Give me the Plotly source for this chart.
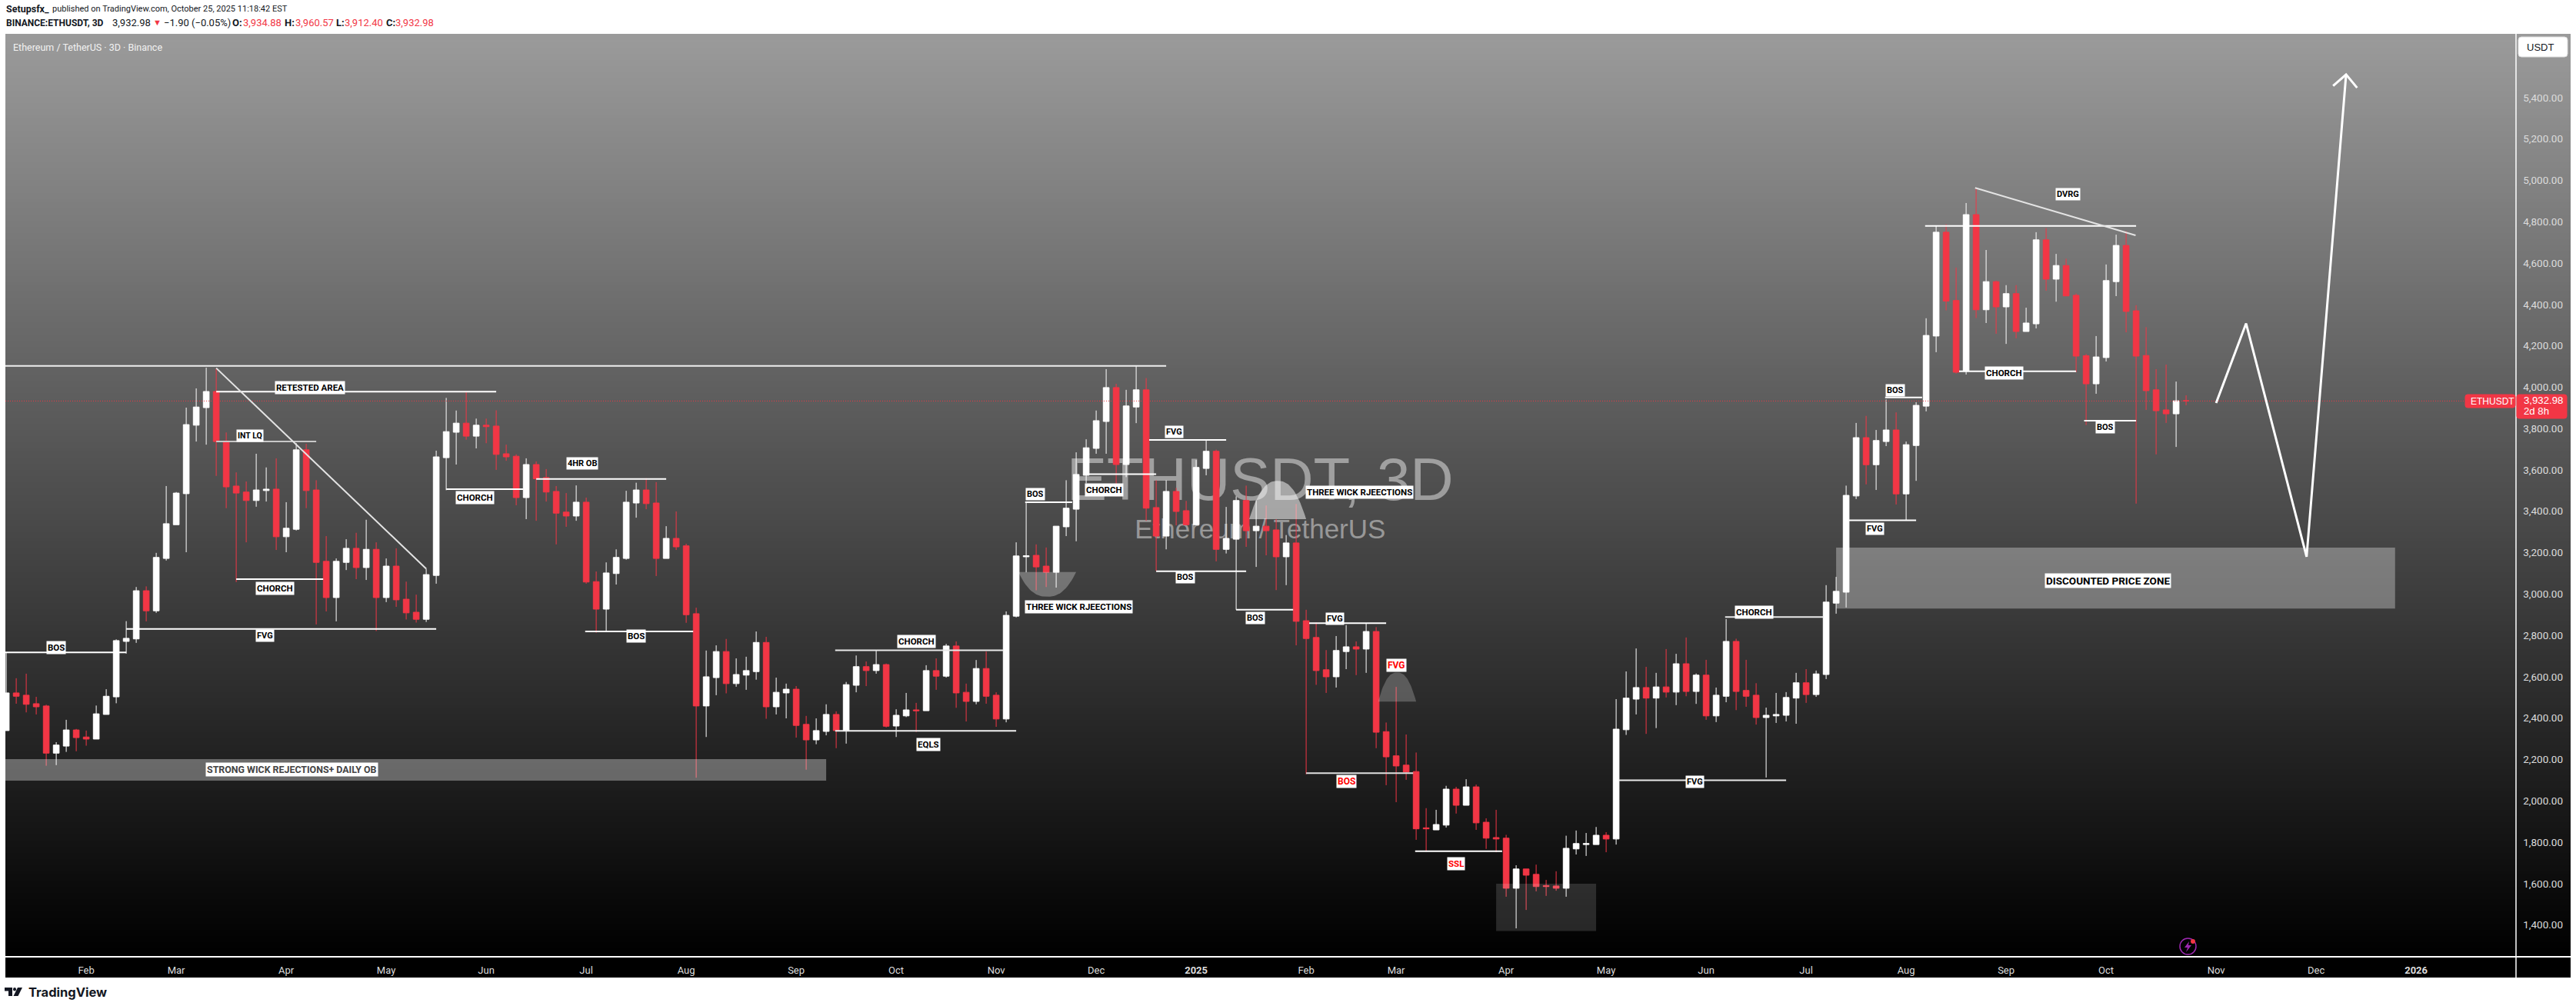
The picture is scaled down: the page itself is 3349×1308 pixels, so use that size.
import numpy as np
import pandas as pd
import plotly.graph_objects as go

WIDTH, HEIGHT = 3349, 1308
PLOT_L, PLOT_R, PLOT_T, PLOT_B = 7, 3342, 44, 1243
AXIS_X = 3271

first_bar = pd.Timestamp("2024-01-10")
bar_days = 3

opens = [2340,2522,2511,2470,2459,2231,2265,2343,2309,2299,2418,2503,2771,2783,3016,2919,3172,3335,3485,3816,3901,3979,3740,3522,3493,3452,3500,3507,3277,3313,3697,3503,3158,2983,3153,3221,3128,3216,2983,3135,2975,2912,2878,3090,3659,3782,3826,3763,3816,3812,3678,3666,3466,3626,3563,3496,3396,3377,3444,3060,2927,3099,3172,3440,3503,3440,3172,3269,3233,2905,2459,2596,2722,2567,2608,2625,2766,2455,2522,2540,2370,2295,2336,2418,2340,2559,2649,2630,2659,2362,2411,2440,2436,2630,2603,2749,2525,2481,2640,2511,2396,2893,3180,3187,3135,3105,3325,3410,3574,3704,3834,3998,3626,3904,3987,3418,3280,3496,3403,3335,3607,3690,3216,3265,3452,3306,3328,3310,3180,3247,2871,2790,2634,2600,2722,2745,2734,2819,2335,2218,2173,2142,1870,1860,1883,2057,1979,2068,1897,1823,1820,1578,1671,1645,1591,1589,1578,1768,1789,1789,1834,1816,2344,2492,2548,2497,2551,2526,2663,2529,2608,2411,2506,2771,2534,2511,2403,2411,2414,2497,2571,2514,2611,2956,3009,3474,3756,3625,3737,3793,3484,3718,3908,4247,4749,4419,4077,4834,4374,4510,4388,4452,4269,4306,4712,4522,4588,4444,4152,4016,4143,4510,4685,4369,4153,3987,3890,3871,3934.88]
highs = [2715,2593,2615,2503,2465,2284,2392,2348,2340,2461,2540,2781,2869,3034,3037,3199,3522,3493,3901,3994,4094,4090,3781,3588,3544,3678,3612,3656,3444,3729,3726,3550,3280,3172,3265,3296,3359,3250,3172,3221,3060,2997,3122,3693,3948,3887,3979,3848,3848,3888,3722,3675,3656,3641,3604,3522,3488,3525,3466,3109,3153,3216,3499,3538,3560,3541,3328,3399,3243,2934,2727,2752,2783,2689,2697,2819,2793,2596,2567,2555,2411,2399,2467,2433,2575,2703,2674,2727,2664,2443,2522,2474,2656,2689,2759,2771,2567,2681,2722,2525,2916,3250,3443,3240,3225,3328,3550,3685,3748,3887,4087,4016,3987,4104,4044,3550,3550,3513,3450,3648,3744,3698,3421,3472,3524,3453,3428,3362,3285,3435,2924,2863,2729,2797,2850,2771,2858,2840,2379,2551,2321,2234,1965,1957,2073,2068,2105,2079,1916,1957,1836,1689,1671,1692,1618,1660,1832,1857,1845,1874,1849,2492,2626,2737,2648,2619,2734,2711,2790,2616,2682,2548,2879,2784,2682,2569,2451,2522,2526,2619,2637,2630,3043,3083,3524,3827,3861,3793,3940,3878,3737,3927,4333,4782,4787,4578,4890,4959,4663,4515,4493,4493,4384,4749,4769,4644,4621,4452,4160,4247,4593,4737,4754,4396,4290,4087,4109,4027,3960.57]
lows = [2340,2470,2428,2418,2170,2173,2237,2240,2267,2299,2418,2472,2712,2764,2868,2909,3162,3335,3202,3737,3722,3571,3415,3058,3250,3422,3447,3213,3202,3307,3415,2853,2916,2868,3116,3072,3068,2821,2961,2938,2877,2862,2865,3050,3502,3626,3746,3704,3729,3600,3644,3429,3362,3354,3447,3240,3325,3354,3050,2813,2821,3046,3166,3369,3410,3087,3172,3213,2861,2112,2309,2511,2520,2552,2537,2586,2397,2418,2399,2306,2151,2274,2317,2255,2277,2525,2555,2615,2355,2309,2405,2333,2436,2537,2596,2450,2384,2467,2470,2358,2380,2887,3105,3018,3034,3031,3280,3255,3535,3678,3678,3472,3565,3826,3354,3112,3216,3332,3332,3332,3574,3158,3196,2924,3228,3131,3187,3019,3043,2752,2129,2561,2522,2548,2637,2608,2619,2255,2076,1994,2102,1812,1755,1860,1871,1939,1979,1860,1768,1752,1537,1384,1473,1563,1541,1566,1537,1741,1734,1789,1752,1789,2319,2418,2324,2352,2500,2463,2506,2469,2392,2381,2477,2439,2455,2369,2113,2377,2384,2373,2474,2503,2589,2905,2935,3459,3530,3503,3715,3433,3355,3547,3883,4169,4371,4066,4061,4334,4310,4258,4209,4236,4269,4284,4466,4413,4441,4072,3817,3968,4124,4440,4265,3437,3890,3675,3827,3711,3912.40]
closes = [2522,2506,2467,2455,2231,2270,2343,2306,2299,2421,2506,2775,2786,3016,2919,3177,3340,3488,3819,3904,3979,3737,3518,3488,3452,3503,3507,3277,3318,3697,3500,3153,2983,3158,3221,3128,3216,2983,3135,2972,2909,2878,3094,3663,3785,3826,3763,3816,3809,3675,3663,3466,3626,3557,3493,3391,3377,3444,3058,2927,3102,3177,3444,3503,3437,3172,3269,3228,2900,2459,2600,2722,2567,2611,2630,2766,2455,2525,2540,2365,2295,2340,2418,2340,2562,2649,2630,2659,2361,2414,2440,2436,2630,2603,2749,2522,2481,2640,2506,2396,2897,3184,3185,3131,3105,3328,3415,3578,3707,3838,3998,3626,3909,3987,3415,3280,3496,3399,3335,3612,3690,3216,3269,3452,3306,3328,3306,3180,3247,2868,2785,2630,2600,2727,2745,2734,2819,2332,2213,2169,2140,1865,1865,1886,2057,1979,2068,1894,1820,1816,1578,1671,1641,1586,1586,1578,1771,1794,1794,1834,1816,2347,2497,2548,2497,2551,2526,2663,2529,2608,2411,2511,2771,2529,2506,2403,2414,2418,2500,2571,2514,2614,2961,3013,3477,3756,3625,3742,3793,3484,3722,3912,4250,4749,4416,4072,4834,4374,4510,4388,4452,4269,4310,4712,4522,4588,4441,4150,4016,4146,4515,4685,4366,4150,3983,3886,3871,3934,3932.98]

last_close = 3932.98
y_ticks = list(range(1400, 5401, 200))
x_tick_bars = [8,17,28,38,48,58,68,79,89,99,109,119,130,139,150,160,170,180,190,200,210,221,231,241]
x_tick_text = ["Feb","Mar","Apr","May","Jun","Jul","Aug","Sep","Oct","Nov","Dec","<b>2025</b>","Feb","Mar","Apr","May","Jun","Jul","Aug","Sep","Oct","Nov","Dec","<b>2026</b>"]

levels = [
    (-1, 116, 4103, "#eeeeee"), (21, 49, 3978, "#ffffff"), (21, 31, 3737, "#c8c8c8"),
    (23, 31.7, 3072, "#ffffff"), (12, 43, 2831, "#ffffff"), (-1, 12, 2718, "#ffffff"),
    (44, 51.7, 3507, "#ffffff"), (53, 66, 3556, "#ffffff"), (57.9, 68.7, 2819, "#ffffff"),
    (82.9, 99.7, 2728, "#e8e8e8"), (82.9, 101, 2339, "#f0f0f0"), (101.9, 106.6, 3444, "#ffffff"),
    (108, 115, 3579, "#ffffff"), (114.3, 122, 3745, "#ffffff"), (115, 124, 3110, "#ffffff"),
    (123, 128.7, 2924, "#ffffff"), (130.3, 138, 2859, "#ffffff"), (130, 140.7, 2134, "#e0e0e0"),
    (140.9, 149.6, 1757, "#ffffff"), (161.3, 178, 2100, "#e8e8e8"), (171.9, 181.7, 2889, "#e8e8e8"),
    (184.3, 191, 3356, "#ffffff"), (187.9, 191.6, 3950, "#ffffff"), (191.9, 213, 4779, "#ffffff"),
    (195.3, 207, 4077, "#ffffff"), (207.8, 213, 3838, "#ffffff"),
]
trends = [(21, 4092, 42, 3122), (196.9, 4963, 212.95, 4734)]
proj_bars = [221, 224, 230.05, 234]
proj_prices = [3923, 4308, 3180, 5511]
head_bars = [232.7, 234, 235.1]
head_prices = [5456, 5511, 5447]
zones = [(-1, 82, 2098, 2202, 0.33), (183, 238.9, 2930, 3224, 0.31), (149, 159, 1371, 1600, 0.14)]
domes = [(101.2, 107, 3106, 2987, 0.28), (124.3, 130, 3362, 3547, 0.5), (137.2, 141, 2480, 2621, 0.22)]
labels = [
    ("RETESTED AREA", 30.4, 3997, 11.5, "#000"), ("INT LQ", 24.4, 3766, 10.5, "#000"),
    ("CHORCH", 26.9, 3027, 11.5, "#000"), ("FVG", 25.9, 2797, 11, "#000"),
    ("BOS", 5, 2741, 11.5, "#000"), ("CHORCH", 46.9, 3465, 11.5, "#000"),
    ("4HR OB", 57.6, 3632, 11, "#000"), ("BOS", 63, 2796, 11.5, "#000"),
    ("CHORCH", 91, 2772, 11.5, "#000"), ("EQLS", 92.25, 2274, 11.5, "#000"),
    ("BOS", 102.9, 3481, 11, "#000"), ("CHORCH", 109.8, 3503, 11.5, "#000"),
    ("FVG", 116.8, 3785, 11, "#000"), ("BOS", 117.9, 3082, 11, "#000"),
    ("BOS", 124.9, 2883, 11, "#000"), ("THREE WICK RJEECTIONS", 107.25, 2938, 11.5, "#000"),
    ("THREE WICK RJEECTIONS", 135.3, 3491, 11.5, "#000"), ("FVG", 132.9, 2879, 11, "#000"),
    ("FVG", 139, 2656, 12, "#f00"), ("BOS", 134, 2095, 12, "#f00"), ("SSL", 145, 1697, 11.5, "#f00"),
    ("FVG", 168.9, 2094, 11, "#000"), ("CHORCH", 174.8, 2914, 11.5, "#000"),
    ("FVG", 186.9, 3317, 11, "#000"), ("BOS", 188.9, 3985, 11, "#000"),
    ("DVRG", 206.2, 4932, 11, "#000"), ("CHORCH", 199.8, 4068, 11.5, "#000"),
    ("BOS", 209.9, 3808, 11, "#000"), ("DISCOUNTED PRICE ZONE", 210.2, 3064, 13.5, "#000"),
    ("STRONG WICK REJECTIONS+ DAILY OB", 28.6, 2151, 12.4, "#444"),
]


def bar_date(i):
    return first_bar + pd.to_timedelta(i * bar_days, unit="D")


def iso(i):
    return bar_date(i).strftime("%Y-%m-%d %H:%M:%S")


def px(x):
    return (x - PLOT_L) / (PLOT_R - PLOT_L)


def py(y):
    return (PLOT_B - y) / (PLOT_B - PLOT_T)


dates = [iso(i) for i in range(len(opens))]
x_range = [iso((PLOT_L - 8.1) / 13), iso((PLOT_R - 8.1) / 13)]
y_range = [1250.4, 5707.7]

fig = go.Figure()

rows = np.linspace(y_range[0], y_range[1], 300)
fig.add_trace(go.Heatmap(
    x=x_range, y=rows, z=[[v, v] for v in np.linspace(0, 1, 300)], zmin=0, zmax=1,
    colorscale=[[0, "#000000"], [1, "#9b9b9b"]], showscale=False, hoverinfo="skip",
    xaxis="x", yaxis="y",
))
fig.add_trace(go.Scatter(
    x=[iso(125.4)], y=[3529], text=["ETHUSDT, 3D"], mode="text", hoverinfo="skip",
    textfont=dict(family="Liberation Sans", size=78, color="rgba(255,255,255,0.45)"), xaxis="x", yaxis="y",
))
fig.add_trace(go.Scatter(
    x=[iso(125.4)], y=[3303], text=["Ethereum / TetherUS"], mode="text", hoverinfo="skip",
    textfont=dict(family="Liberation Sans", size=35, color="rgba(255,255,255,0.45)"), xaxis="x", yaxis="y",
))

fig.add_trace(go.Candlestick(
    x=dates, open=opens, high=highs, low=lows, close=closes,
    increasing=dict(line=dict(color="#ffffff", width=1), fillcolor="#ffffff"),
    decreasing=dict(line=dict(color="#f23645", width=1), fillcolor="#f23645"),
    whiskerwidth=0, hoverinfo="skip", xaxis="x2", yaxis="y2",
))

for b0, b1, lo, hi, a in zones:
    fig.add_trace(go.Scatter(
        x=[iso(b0), iso(b1), iso(b1), iso(b0), iso(b0)], y=[lo, lo, hi, hi, lo],
        mode="lines", line=dict(width=0), fill="toself", fillcolor=f"rgba(255,255,255,{a})",
        hoverinfo="skip", xaxis="x2", yaxis="y2",
    ))
for b0, b1, base, tip, a in domes:
    t = np.linspace(-1, 1, 41)
    mid, half = (b0 + b1) / 2, (b1 - b0) / 2
    fig.add_trace(go.Scatter(
        x=[iso(mid + half * v) for v in t], y=list(base + (tip - base) * (1 - np.abs(t) ** 2.4)),
        mode="lines", line=dict(width=0), fill="toself", fillcolor=f"rgba(255,255,255,{a})",
        hoverinfo="skip", xaxis="x2", yaxis="y2",
    ))
fig.add_trace(go.Scatter(
    x=[x_range[0], iso((AXIS_X - 8.1) / 13)], y=[last_close, last_close], mode="lines",
    line=dict(color="#f23645", width=1, dash="1px 2px"), hoverinfo="skip", xaxis="x2", yaxis="y2",
))
for b0, b1, price, col in levels:
    fig.add_trace(go.Scatter(
        x=[iso(b0), iso(b1)], y=[price, price], mode="lines", line=dict(color=col, width=2),
        hoverinfo="skip", xaxis="x2", yaxis="y2",
    ))
for b0, p0, b1, p1 in trends:
    fig.add_trace(go.Scatter(
        x=[iso(b0), iso(b1)], y=[p0, p1], mode="lines", line=dict(color="#e4e4e4", width=2),
        hoverinfo="skip", xaxis="x2", yaxis="y2",
    ))
for bs, ps in ((proj_bars, proj_prices), (head_bars, head_prices)):
    fig.add_trace(go.Scatter(
        x=[iso(b) for b in bs], y=ps, mode="lines", line=dict(color="#ffffff", width=3),
        hoverinfo="skip", xaxis="x2", yaxis="y2",
    ))

annotations = []
for text, b, price, size, col in labels:
    annotations.append(dict(
        x=iso(b), y=price, xref="x", yref="y", text=f"<b>{text}</b>", showarrow=False,
        font=dict(family="Roboto", size=size, color=col), bgcolor="#ffffff", borderpad=1,
        xanchor="center", yanchor="middle",
    ))


def page_text(x, y, text, size=13, color="#131722", family="Roboto"):
    annotations.append(dict(
        x=px(x), y=py(y), xref="paper", yref="paper", text=text, showarrow=False,
        xanchor="left", yanchor="middle", align="left",
        font=dict(family=family, size=size, color=color),
    ))


red = "#f23645"
page_text(6, 12, "<b>Setupsfx_</b>", 12.5)
page_text(66, 12, "published on TradingView.com, October 25, 2025 11:18:42 EST", 11)
page_text(6, 30, "<b>BINANCE:ETHUSDT, 3D</b>", 12)
page_text(144, 30, "3,932.98", 13)
page_text(197, 30, "▼", 11, red)
page_text(211, 30, "−1.90 (−0.05%)", 13)
for lx, letter, vx, val in [(300, "O:", 314, "3,934.88"), (368, "H:", 382, "3,960.57"),
                            (435, "L:", 446, "3,912.40"), (500, "C:", 512, "3,932.98")]:
    page_text(lx, 30, f"<b>{letter}</b>", 13)
    page_text(vx, 30, val, 13, red)
page_text(15, 62, "Ethereum / TetherUS · 3D · Binance", 12.5, "#f2f2f2")
page_text(35, 1290, "<b>TradingView</b>", 16.5, "#131722", "Inter")
page_text(3283, 61, "USDT", 13, "#131722", "Liberation Sans")
page_text(3210, 521.5, "ETHUSDT", 12, "#ffffff", "Liberation Sans")
page_text(3279, 520.5, "3,932.98", 13.2, "#ffffff", "Liberation Sans")
page_text(3279, 534.5, "2d 8h", 13.2, "#ffffff", "Liberation Sans")


def round_box(x0, y0, x1, y1, fill, r=3, line=None):
    path = (
        f"M {px(x0 + r)} {py(y0)} L {px(x1 - r)} {py(y0)} Q {px(x1)} {py(y0)} {px(x1)} {py(y0 + r)} "
        f"L {px(x1)} {py(y1 - r)} Q {px(x1)} {py(y1)} {px(x1 - r)} {py(y1)} "
        f"L {px(x0 + r)} {py(y1)} Q {px(x0)} {py(y1)} {px(x0)} {py(y1 - r)} "
        f"L {px(x0)} {py(y0 + r)} Q {px(x0)} {py(y0)} {px(x0 + r)} {py(y0)} Z"
    )
    return dict(type="path", xref="paper", yref="paper", path=path, fillcolor=fill,
                line=dict(color=line or fill, width=1), layer="above")


shapes = [
    dict(type="rect", xref="paper", yref="paper", x0=0, x1=1, y0=py(1271), y1=0,
         fillcolor="#000000", line_width=0, layer="below"),
    dict(type="line", xref="paper", yref="paper", x0=px(AXIS_X), x1=px(AXIS_X), y0=py(1271), y1=1,
         line=dict(color="#ffffff", width=1.5), layer="above"),
    round_box(3274, 48, 3338, 74, "#ffffff", r=4, line="#dddddd"),
    round_box(3205, 513, 3270, 530, red),
    round_box(3272, 513, 3337, 544, red),
    dict(type="circle", xref="paper", yref="paper", x0=px(2834), x1=px(2855), y0=py(1241), y1=py(1220),
         line=dict(color="#9c27b0", width=1.5), fillcolor="rgba(0,0,0,0)"),
    dict(type="path", xref="paper", yref="paper", line=dict(color="#9c27b0", width=0), fillcolor="#9c27b0",
         path=f"M {px(2846)} {py(1224)} L {px(2840)} {py(1232)} L {px(2844)} {py(1232)} L {px(2842)} {py(1238)} "
              f"L {px(2849)} {py(1229)} L {px(2845)} {py(1229)} Z"),
    dict(type="circle", xref="paper", yref="paper", x0=px(2848), x1=px(2854), y0=py(1227), y1=py(1221),
         fillcolor=red, line_width=0),
    dict(type="path", xref="paper", yref="paper", line_width=0, fillcolor="#131722",
         path=f"M {px(6)} {py(1284)} L {px(16)} {py(1284)} L {px(16)} {py(1295)} L {px(11)} {py(1295)} "
              f"L {px(11)} {py(1288.5)} L {px(6)} {py(1288.5)} Z"),
    dict(type="circle", xref="paper", yref="paper", x0=px(17), x1=px(21), y0=py(1288.5), y1=py(1284),
         fillcolor="#131722", line_width=0),
    dict(type="path", xref="paper", yref="paper", line_width=0, fillcolor="#131722",
         path=f"M {px(23)} {py(1284)} L {px(29)} {py(1284)} L {px(23.5)} {py(1295)} L {px(17.5)} {py(1295)} Z"),
]

fig.update_layout(
    width=WIDTH, height=HEIGHT, autosize=False, showlegend=False,
    paper_bgcolor="#ffffff", plot_bgcolor="#000000",
    margin=dict(l=PLOT_L, r=WIDTH - PLOT_R, t=PLOT_T, b=HEIGHT - PLOT_B, pad=0),
    boxgap=0.2, boxgroupgap=0.27,
    xaxis=dict(
        type="date", range=x_range, tickmode="array", tickvals=[iso(i) for i in x_tick_bars],
        ticktext=x_tick_text, tickangle=0, tickfont=dict(family="Roboto", size=13, color="#dcdcdc"),
        showgrid=False, zeroline=False,
        showline=True, linecolor="#ffffff", linewidth=1.5, ticks="outside", ticklen=6,
        tickcolor="rgba(0,0,0,0)", rangeslider=dict(visible=False),
    ),
    yaxis=dict(
        range=y_range, side="right", ticklabelposition="inside", tickmode="array", tickvals=y_ticks,
        tickformat=",.2f", tickfont=dict(family="Roboto", size=13.5, color="#dcdcdc"),
        showgrid=False, zeroline=False, showline=False, ticks="", ticklabelstandoff=7,
    ),
    xaxis2=dict(type="date", range=x_range, overlaying="x", visible=False, rangeslider=dict(visible=False)),
    yaxis2=dict(range=y_range, overlaying="y", side="right", visible=False),
    annotations=annotations, shapes=shapes,
)

fig.write_html(
    "out.html", config=dict(displayModeBar=False, responsive=False),
    post_script="document.body.style.margin='0';",
)
